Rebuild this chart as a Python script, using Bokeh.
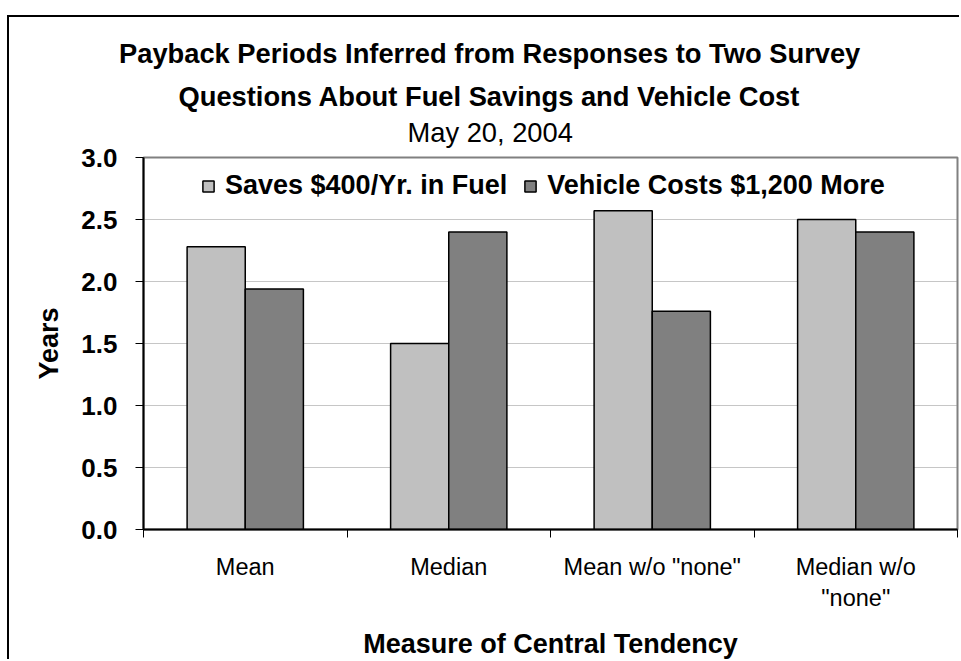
import numpy as np
from bokeh.plotting import figure
from bokeh.models import (ColumnDataSource, Range1d, FixedTicker, PrintfTickFormatter,
                          Legend, LegendItem, Title)
from bokeh.transform import dodge
from bokeh.embed import file_html
from bokeh.resources import INLINE

# ---- data ----
categories = ["Mean", "Median", 'Mean w/o "none"', 'Median w/o\n"none"']
saves_fuel = [2.28, 1.50, 2.57, 2.50]
vehicle_cost = [1.94, 2.40, 1.76, 2.40]
series_names = ["Saves $400/Yr. in Fuel", "Vehicle Costs $1,200 More"]
y_ticks = [0.0, 0.5, 1.0, 1.5, 2.0, 2.5, 3.0]
title_lines = ["Payback Periods Inferred from Responses to Two Survey",
               "Questions About Fuel Savings and Vehicle Cost"]
subtitle = "May 20, 2004"
x_title = "Measure of Central Tendency"
y_title = "Years"

FONT = "Liberation Sans"
LIGHT = "#C0C0C0"
DARK = "#808080"

n = len(categories)
centers = np.arange(n) + 0.5
bar_w = 1.0 / 3.5

# layout (page pixels)
FRAME_L, FRAME_R, FRAME_T, FRAME_B = 143, 957, 157, 529
ORIG_X, ORIG_Y = 9, 17
W, H = 952, 644
YMAX = 3.0

src = ColumnDataSource(dict(x=centers, saves=saves_fuel, cost=vehicle_cost))

p = figure(width=W, height=H, output_backend="svg", toolbar_location=None,
           x_range=Range1d(0, n), y_range=Range1d(0, YMAX),
           min_border_left=FRAME_L - ORIG_X,
           min_border_right=W - (FRAME_R - ORIG_X),
           min_border_top=FRAME_T - ORIG_Y,
           min_border_bottom=H - (FRAME_B - ORIG_Y),
           styles={"margin-left": "7px", "margin-top": "15px",
                   "border-left": "2px solid black", "border-top": "2px solid black"})
p.background_fill_color = "white"
p.border_fill_color = "white"
p.outline_line_color = "#808080"
p.outline_line_width = 2

r1 = p.vbar(x=dodge("x", -bar_w / 2, range=p.x_range), top="saves", width=bar_w,
            source=src, fill_color=LIGHT, line_color="black", line_width=1.5)
r2 = p.vbar(x=dodge("x", bar_w / 2, range=p.x_range), top="cost", width=bar_w,
            source=src, fill_color=DARK, line_color="black", line_width=1.5)

# grid
p.xgrid.visible = False
p.ygrid.ticker = FixedTicker(ticks=y_ticks)
p.ygrid.grid_line_color = "#8c8c8c"
p.ygrid.grid_line_dash = "1 1"
p.ygrid.grid_line_width = 1

# y axis
ya = p.yaxis[0]
ya.ticker = FixedTicker(ticks=y_ticks)
ya.formatter = PrintfTickFormatter(format="%.1f")
ya.axis_line_color = "black"
ya.axis_line_width = 2
ya.major_tick_line_color = "black"
ya.major_tick_out = 8
ya.major_tick_in = 0
ya.minor_tick_line_color = None
ya.major_label_text_font = FONT
ya.major_label_text_font_style = "bold"
ya.major_label_text_font_size = "26px"
ya.major_label_text_color = "black"
ya.major_label_standoff = 18
ya.axis_label = y_title
ya.axis_label_text_font = FONT
ya.axis_label_text_font_style = "bold"
ya.axis_label_text_font_size = "27px"
ya.axis_label_text_color = "black"
ya.axis_label_standoff = 14

# x axis
xa = p.xaxis[0]
xa.ticker = FixedTicker(ticks=list(centers), minor_ticks=list(range(n + 1)))
xa.major_label_overrides = {float(c): lab for c, lab in zip(centers, categories)}
xa.axis_line_color = "black"
xa.axis_line_width = 2
xa.major_tick_line_color = None
xa.major_tick_out = 8
xa.major_tick_in = 0
xa.minor_tick_line_color = "black"
xa.minor_tick_out = 8
xa.minor_tick_in = 0
xa.major_label_text_font = FONT
xa.major_label_text_font_size = "23.5px"
xa.major_label_text_color = "black"
xa.major_label_text_line_height = 1.2
xa.major_label_standoff = 16
xa.axis_label = x_title
xa.axis_label_text_font = FONT
xa.axis_label_text_font_style = "bold"
xa.axis_label_text_font_size = "27px"
xa.axis_label_text_color = "black"
xa.axis_label_standoff = 15

# legend
legend = Legend(items=[LegendItem(label=series_names[0], renderers=[r1]),
                       LegendItem(label=series_names[1], renderers=[r2])],
                orientation="horizontal", location=(58, 328),
                label_text_font=FONT, label_text_font_style="bold",
                label_text_font_size="27px", label_text_color="black",
                glyph_width=14, glyph_height=14, label_standoff=10, spacing=16,
                padding=0, margin=0, border_line_color=None,
                background_fill_alpha=0)
p.add_layout(legend, "center")

# titles: added nearest-first (subtitle, line 2, line 1)
p.title = None
TS = "27.3px"
p.add_layout(Title(text=subtitle, align="left", offset=264, standoff=20,
                   text_font=FONT, text_font_size=TS, text_font_style="normal",
                   text_color="black"), "above")
p.add_layout(Title(text=title_lines[1], align="left", offset=35, standoff=-14,
                   text_font=FONT, text_font_size=TS, text_font_style="bold",
                   text_color="black"), "above")
p.add_layout(Title(text=title_lines[0], align="left", offset=-24.5, standoff=34,
                   text_font=FONT, text_font_size=TS, text_font_style="bold",
                   text_color="black"), "above")

open("out.html", "w").write(file_html(p, INLINE))
